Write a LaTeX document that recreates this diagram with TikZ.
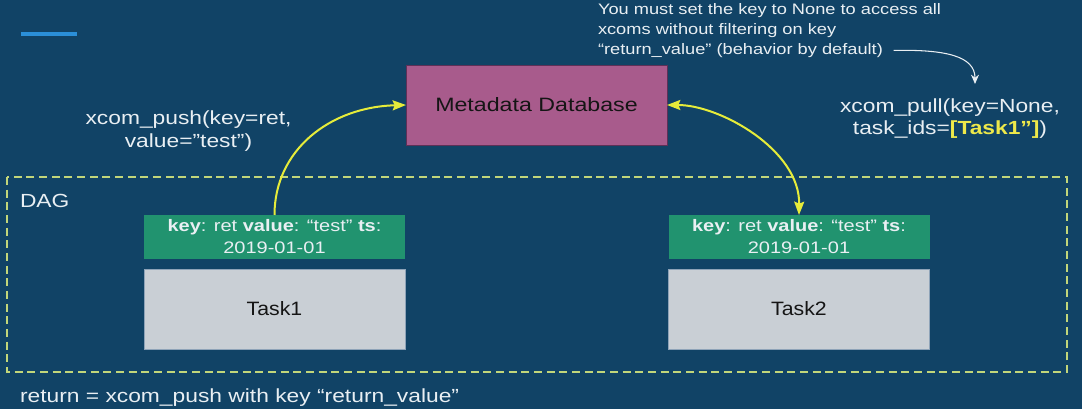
\documentclass[tikz,border=0pt]{standalone}
\usepackage{fontspec}
\setmainfont[FakeStretch=1.2]{Liberation Sans}
\newfontfamily\taskfont[FakeStretch=1.1]{Liberation Sans}
\usetikzlibrary{arrows.meta}
\definecolor{bg}{HTML}{114366}
\definecolor{accent}{HTML}{2B8FD8}
\definecolor{dbfill}{HTML}{A85B8C}
\definecolor{dbline}{HTML}{5E3057}
\definecolor{kvfill}{HTML}{21936F}
\definecolor{taskfill}{HTML}{C9CFD5}
\definecolor{taskline}{HTML}{8EA3B8}
\definecolor{dagline}{HTML}{C2D67A}
\definecolor{arrowyellow}{HTML}{E6EC3A}
\definecolor{hl}{HTML}{EEE94A}
\definecolor{txt}{HTML}{E9EFF3}
\definecolor{dark}{HTML}{151515}
\begin{document}
\begin{tikzpicture}[x=0.75pt,y=-0.75pt,
  every node/.style={inner sep=0pt, outer sep=0pt},
  lbl/.style={text=txt, font=\fontsize{14.25pt}{17pt}\selectfont},
  notelbl/.style={text=txt, font=\fontsize{11.4pt}{15pt}\selectfont, anchor=base west},
  dbbox/.style={draw=dbline, line width=0.6pt, fill=dbfill, text=dark,
    minimum width=195.75pt, minimum height=60pt,
    font=\fontsize{14.5pt}{17pt}\selectfont},
  kvbox/.style={fill=kvfill, text=txt, align=center,
    minimum width=195.75pt, minimum height=33pt,
    font=\fontsize{12.5pt}{16.5pt}\selectfont},
  taskbox/.style={draw=taskline, line width=0.6pt, fill=taskfill, text=dark,
    minimum width=195.75pt, minimum height=60pt,
    font=\taskfont\fontsize{14.5pt}{17pt}\selectfont},
  yarrow/.style={draw=arrowyellow, line width=1.5pt},
  warrow/.style={draw=txt, line width=0.8pt, -{Stealth[length=7pt,width=6pt]}}
]
\fill[bg] (0,0) rectangle (1082,409);
\useasboundingbox (0,0) rectangle (1082,409);
% accent bar
\fill[accent] (21,32) rectangle (77,36);
% DAG frame
\draw[dagline, line width=1.1pt, dash pattern=on 6pt off 3.5pt] (7,177) rectangle (1067,372);
\node[lbl, anchor=base west] (dag) at (20,208) {DAG};
% boxes
\node[dbbox] (db) at (536.5,105) {Metadata Database};
\node[kvbox] (kv1) at (274.5,237) {\textbf{key}: ret \textbf{value}: “test” \textbf{ts}:\\2019-01-01};
\node[kvbox] (kv2) at (799,237) {\textbf{key}: ret \textbf{value}: “test” \textbf{ts}:\\2019-01-01};
\node[taskbox] (t1) at (274.5,309) {Task1};
\node[taskbox] (t2) at (799,309) {Task2};
% push label
\node[lbl, anchor=base] (push1) at (188.5,125) {xcom\_push(key=ret,};
\node[lbl, anchor=base] (push2) at (188.5,148) {value=”test”)};
% pull label
\node[lbl, anchor=base] (pull1) at (950,113) {xcom\_pull(key=None,};
\node[lbl, anchor=base] (pull2) at (950,135) {task\_ids=\textcolor{hl}{\textbf{[Task1”]}})};
% note
\node[notelbl] (note1) at (598,15) {You must set the key to None to access all};
\node[notelbl] (note2) at (598,35) {xcoms without filtering on key};
\node[notelbl] (note3) at (598,55) {“return\_value” (behavior by default)};
\coordinate (wtip) at (975,84);
\draw[warrow] ([xshift=8pt,yshift=0.5pt]note3.east) .. controls +(52,-1) and +(0,-28) .. (wtip);
% bottom
\node[lbl, anchor=base west] (ret) at (20,403) {return = xcom\_push with key “return\_value”};
% yellow connectors
\draw[yarrow, -{Stealth[length=10pt,width=7.5pt,inset=1.5pt]}] (kv1.north) .. controls +(0,-65) and +(-76,2) .. (db.west);
\draw[yarrow, {Stealth[length=10pt,width=7.5pt,inset=1.5pt]}-{Stealth[length=10pt,width=7.5pt,inset=1.5pt]}] (db.east) .. controls +(53,0) and +(1,-65) .. (kv2.north);
\end{tikzpicture}
\end{document}
